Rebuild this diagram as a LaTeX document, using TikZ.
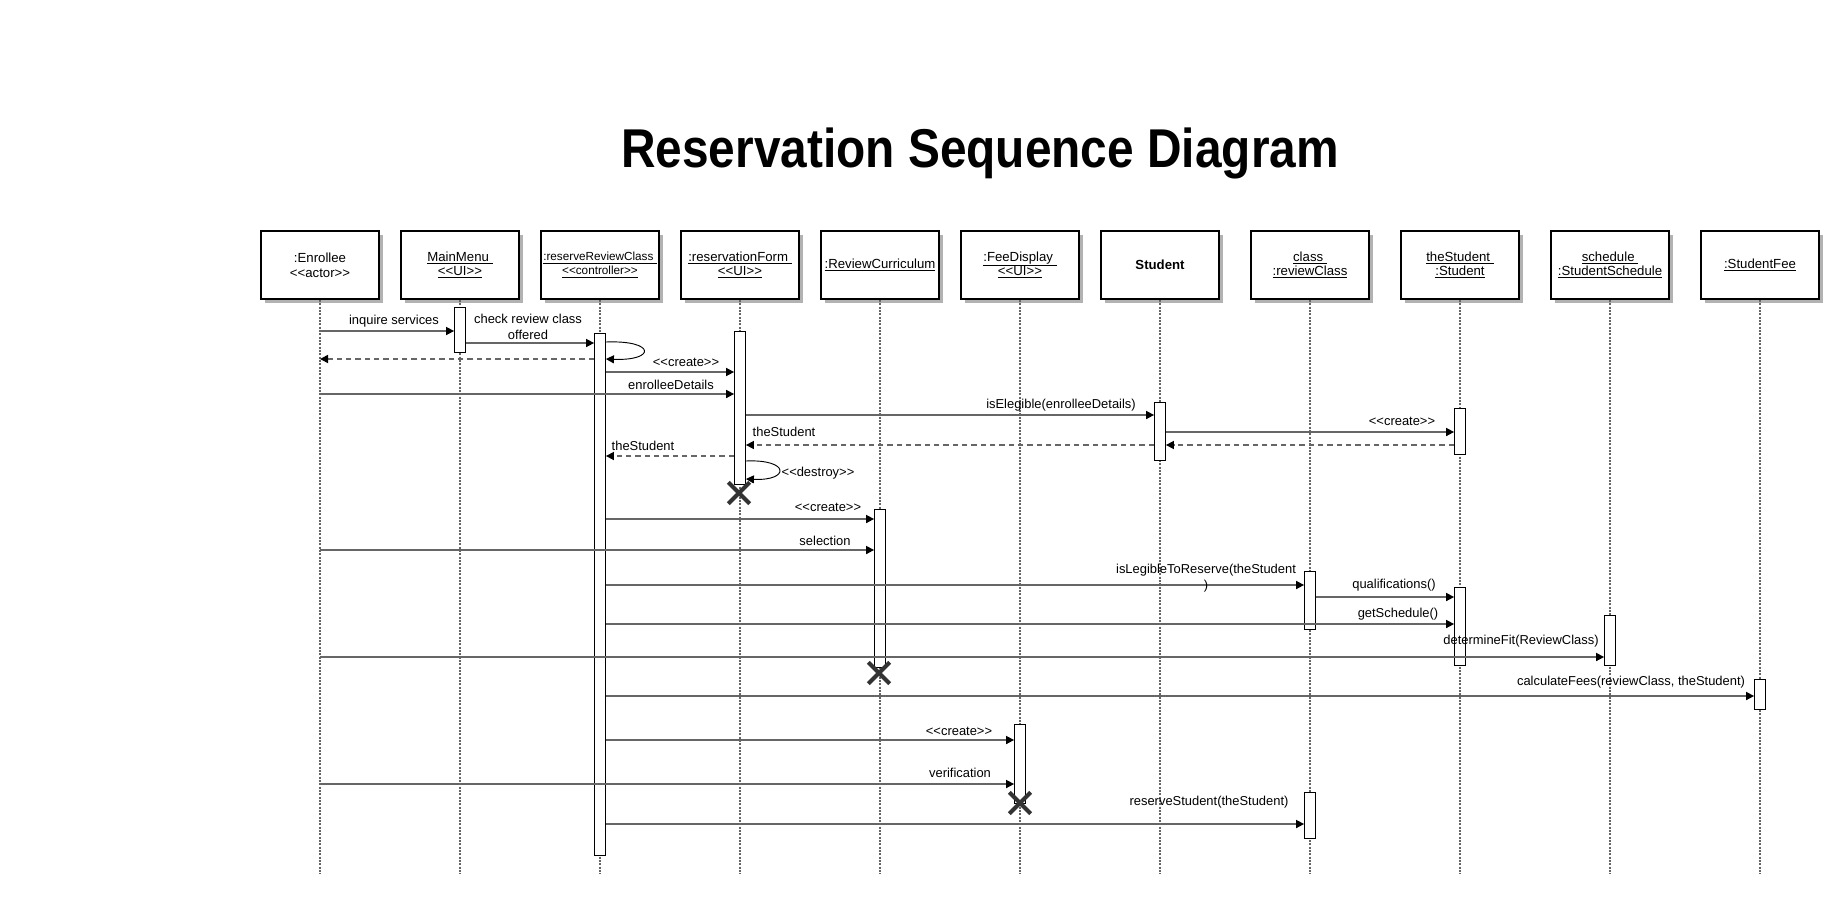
\documentclass[tikz,border=0pt]{standalone}
\usepackage{fontspec}
\setmainfont{Liberation Sans}[Ligatures=TeXOff]
\usepackage{tikz}
\usetikzlibrary{shapes,shapes.misc,positioning,arrows.meta,shadows,fit}
\tikzset{obj/.style={draw,line width=1.5pt,fill=white,minimum width=89pt,minimum height=51pt,inner sep=1pt,align=center,font=\fontsize{9.9}{11}\selectfont,drop shadow={shadow xshift=3pt,shadow yshift=-3pt,fill=black!30,opacity=1}}}
\tikzset{act/.style={draw,fill=white,line width=0.6pt,inner sep=0pt}}
\tikzset{life/.style={black!60,line width=1.5pt,dash pattern=on 1.5pt off 1pt}}
\tikzset{msg/.style={black!60,line width=1.2pt,-{Triangle[length=6pt,width=6pt,color=black]}}}
\tikzset{ret/.style={msg,dash pattern=on 4pt off 3pt}}
\tikzset{self/.style={black,line width=0.7pt,-{Triangle[length=6pt,width=6pt]}}}
\tikzset{lbl/.style={font=\fontsize{9.7}{11.5}\selectfont,inner sep=0pt,align=center}}
\tikzset{kill/.style={cross out,draw=black!80,line width=3pt,minimum size=13pt,inner sep=0pt}}

\begin{document}
\begin{tikzpicture}[x=0.75pt,y=-0.75pt]
    \useasboundingbox (0,0) rectangle (1840,900);

    % title
    \node[anchor=base,font=\bfseries\fontsize{41}{44}\selectfont] (title)at (980,167) {\scalebox{0.875}[1]{Reservation Sequence Diagram}};

    % objects
    \node[obj] (enr)at (320,265) {:Enrollee\\<<actor>>};
    \node[obj] (menu)at (460,265) {\underline{MainMenu\ }\\\underline{<<UI>>}};
    \node[obj,font=\fontsize{8.8}{10.5}\selectfont] (ctrl)at (600,265) {\underline{:reserveReviewClass\ }\\\underline{<<controller>>}};
    \node[obj] (form)at (740,265) {\underline{:reservationForm\ }\\\underline{<<UI>>}};
    \node[obj] (curr)at (880,265) {\underline{:ReviewCurriculum}};
    \node[obj] (fee)at (1020,265) {\underline{:FeeDisplay\ }\\\underline{<<UI>>}};
    \node[obj,font=\bfseries\fontsize{9.9}{11}\selectfont] (stud)at (1160,265) {Student};
    \node[obj] (cls)at (1310,265) {\underline{class\ }\\\underline{:reviewClass}};
    \node[obj] (thes)at (1460,265) {\underline{theStudent\ }\\\underline{:Student}};
    \node[obj] (sched)at (1610,265) {\underline{schedule\ }\\\underline{:StudentSchedule}};
    \node[obj] (sfee)at (1760,265) {\underline{:StudentFee}};

    % lifelines
    \coordinate (bottom) at (0,874);
    \foreach \n in {enr,menu,ctrl,form,curr,fee,stud,cls,thes,sched,sfee}
        \draw [life] (\n.south) -- (\n.south |- bottom);

    % activations
    \node[act,fit={(454.5,307) (465.5,352)}] (menuA) {};
    \node[act,fit={(594.5,333) (605.5,855)}] (ctrlA) {};
    \node[act,fit={(734.5,331) (745.5,484)}] (formA) {};
    \node[act,fit={(1154.5,402) (1165.5,460)}] (studA) {};
    \node[act,fit={(1454.5,408) (1465.5,454)}] (thesA) {};
    \node[act,fit={(874.5,509) (885.5,667)}] (currA) {};
    \node[act,fit={(1304.5,571) (1315.5,629)}] (clsA) {};
    \node[act,fit={(1454.5,587) (1465.5,665)}] (thesB) {};
    \node[act,fit={(1604.5,615) (1615.5,665)}] (schedA) {};
    \node[act,fit={(1754.5,679) (1765.5,709)}] (sfeeA) {};
    \node[act,fit={(1014.5,724) (1025.5,803)}] (feeA) {};
    \node[act,fit={(1304.5,792) (1315.5,838)}] (clsB) {};

    % messages
    \draw [msg] (enr |- 0,331) -- (menuA.west |- 0,331);
    \draw [msg] (menuA.east |- 0,343) -- (ctrlA.west |- 0,343);
    \draw [self] (ctrlA.east |- 0,342) .. controls (656,340) and (656,361) .. (ctrlA.east |- 0,359);
    \draw [ret] (ctrlA.west |- 0,359) -- (enr |- 0,359);
    \draw [msg] (ctrlA.east |- 0,372) -- (formA.west |- 0,372);
    \draw [msg] (enr |- 0,394) -- (formA.west |- 0,394);
    \draw [msg] (formA.east |- 0,415) -- (studA.west |- 0,415);
    \draw [msg] (studA.east |- 0,432) -- (thesA.west |- 0,432);
    \draw [ret] (thesA.west |- 0,445) -- (studA.east |- 0,445);
    \draw [ret] (studA.west |- 0,445) -- (formA.east |- 0,445);
    \draw [ret] (formA.west |- 0,456) -- (ctrlA.east |- 0,456);
    \draw [self] (formA.east |- 0,461) .. controls (790,459) and (790,481) .. (formA.east |- 0,479);
    \draw [msg] (ctrlA.east |- 0,519) -- (currA.west |- 0,519);
    \draw [msg] (enr |- 0,550) -- (currA.west |- 0,550);
    \draw [msg] (ctrlA.east |- 0,585) -- (clsA.west |- 0,585);
    \draw [msg] (clsA.east |- 0,597) -- (thesB.west |- 0,597);
    \draw [msg] (ctrlA.east |- 0,624) -- (thesB.west |- 0,624);
    \draw [msg] (enr |- 0,657) -- (schedA.west |- 0,657);
    \draw [msg] (ctrlA.east |- 0,696) -- (sfeeA.west |- 0,696);
    \draw [msg] (ctrlA.east |- 0,740) -- (feeA.west |- 0,740);
    \draw [msg] (enr |- 0,784) -- (feeA.west |- 0,784);
    \draw [msg] (ctrlA.east |- 0,824) -- (clsB.west |- 0,824);

    % labels
    \node[lbl] (l1)at (394,321) {inquire services};
    \node[lbl] (l2)at (528,327) {check review class\\offered};
    \node[lbl] (l5)at (686,362) {<<create>>};
    \node[lbl] (l6)at (671,385) {enrolleeDetails};
    \node[lbl] (l7)at (1061,405) {isElegible(enrolleeDetails)};
    \node[lbl] (l8)at (1402,421) {<<create>>};
    \node[lbl] (l10)at (784,432) {theStudent};
    \node[lbl] (l11)at (643,446) {theStudent};
    \node[lbl] (l12)at (818,473) {<<destroy>>};
    \node[lbl] (l14)at (828,507) {<<create>>};
    \node[lbl] (l15)at (825,541) {selection};
    \node[lbl] (l16)at (1206,578) {isLegibleToReserve(theStudent\\)};
    \node[lbl] (l17)at (1394,585) {qualifications()};
    \node[lbl] (l18)at (1398,614) {getSchedule()};
    \node[lbl] (l19)at (1521,641) {determineFit(ReviewClass)};
    \node[lbl] (l21)at (1631,682) {calculateFees(reviewClass, theStudent)};
    \node[lbl] (l22)at (959,731) {<<create>>};
    \node[lbl] (l23)at (960,773) {verification};
    \node[lbl] (l25)at (1209,802) {reserveStudent(theStudent)};

    % destroyed
    \node[kill] (x1)at (739,493) {};
    \node[kill] (x2)at (879,673) {};
    \node[kill] (x3)at (1020,803) {};
\end{tikzpicture}
\end{document}
